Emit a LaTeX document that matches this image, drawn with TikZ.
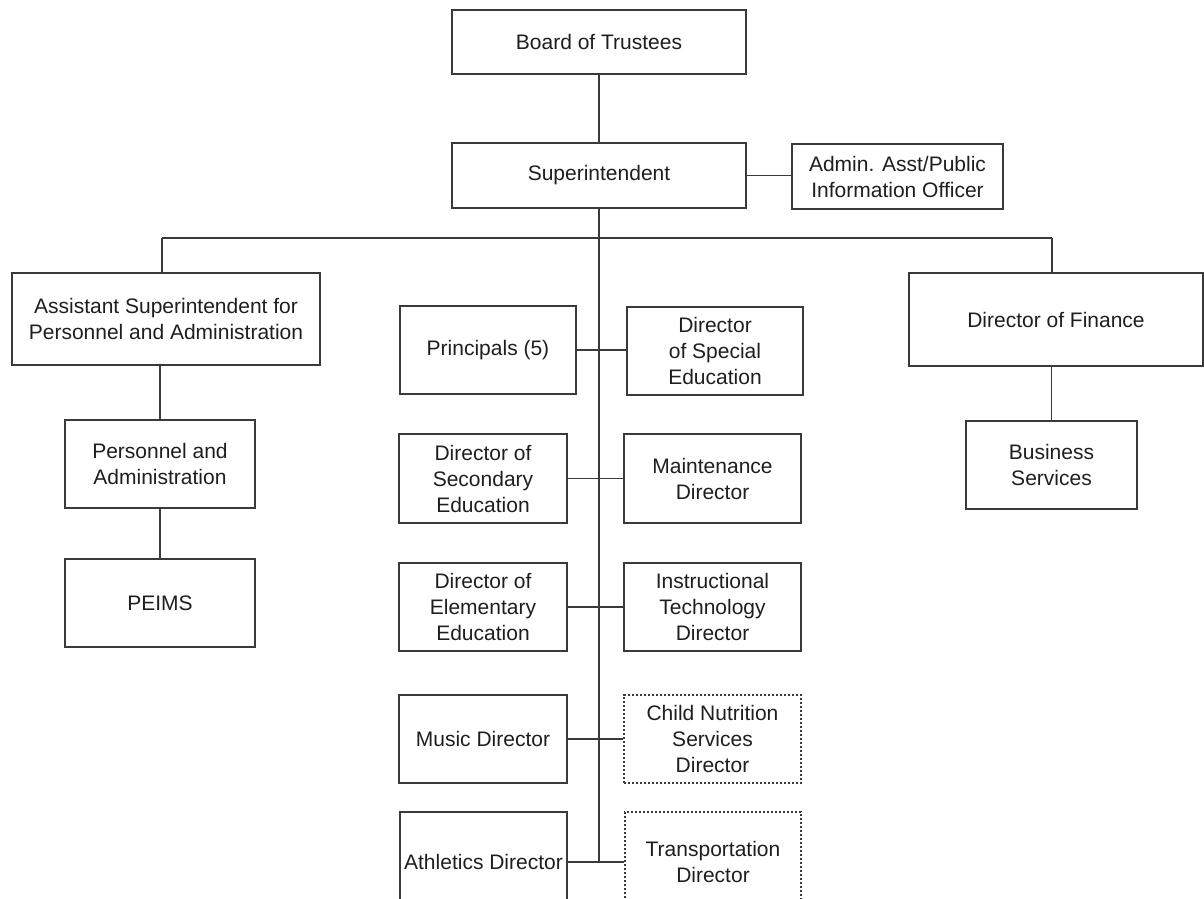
\documentclass[tikz,border=0pt]{standalone}
\usepackage{fontspec}
\setmainfont{Liberation Sans}
\begin{document}
\definecolor{inkline}{HTML}{3A3A3A}
\definecolor{inktext}{HTML}{1E1E1E}
% orgbox[style]{name}{x1}{y1}{x2}{y2}{text}, corners in pixel units (y downwards)
\newcommand\orgbox[7][]{%
  \node[box,#1,minimum width={(#5-#3)*0.75pt},minimum height={(#6-#4)*0.75pt}]
    (#2) at ({(#3+#5)/2},{(#4+#6)/2}) {#7};}
\begin{tikzpicture}[x=0.75pt,y=-0.75pt,
  box/.style={draw=inkline,line width=0.8pt,rectangle,inner sep=0pt,align=center,
    text=inktext,font=\fontsize{15.75}{19.5}\selectfont},
  dotbox/.style={dash pattern=on 1.6pt off 1.4pt},
  link/.style={draw=inkline,line width=0.8pt}]
\useasboundingbox (0,0) rectangle (1204,899);
\clip (0,0) rectangle (1204,899);

% top of the chart
\orgbox{board}{452}{10}{746}{74}{Board of Trustees}
\orgbox{super}{452}{143}{746}{208}{Superintendent}
\orgbox{admin}{792}{144}{1003}{209}{Admin. Asst/Public\\Information Officer}

% left branch
\orgbox{aspa}{12}{273}{320}{365}{Assistant Superintendent for\\Personnel and Administration}
\orgbox{pers}{65}{420}{255}{508}{Personnel and\\Administration}
\orgbox{peims}{65}{559}{255}{647}{PEIMS}

% right branch
\orgbox{fin}{909}{273}{1203}{366}{Director of Finance}
\orgbox{bus}{966}{421}{1137}{509}{Business\\Services}

% central column
\orgbox{princ}{400}{306}{576}{394}{Principals (5)}
\orgbox{sped}{627}{307}{803}{395}{Director\\of Special\\Education}
\orgbox{sec}{399}{434}{567}{523}{Director of\\Secondary\\Education}
\orgbox{maint}{624}{434}{801}{523}{Maintenance\\Director}
\orgbox{elem}{399}{563}{567}{651}{Director of\\Elementary\\Education}
\orgbox{tech}{624}{563}{801}{651}{Instructional\\Technology\\Director}
\orgbox{music}{399}{695}{567}{783}{Music Director}
\orgbox[dotbox]{nutr}{624}{695}{801}{783}{Child Nutrition\\Services\\Director}
\orgbox{ath}{400}{812}{567}{912}{Athletics Director}
\orgbox[dotbox]{trans}{625}{812}{801}{912}{Transportation\\Director}

% connectors
\coordinate (lbar) at (162,238);
\coordinate (rbar) at (1052,238);
\draw[link] (board.south) -- (super.north);
\draw[link] (super.east) -- (super.east -| admin.west);
\draw[link] (super.south) -- (super.south |- ath.east);
\draw[link] (lbar) -- (rbar);
\draw[link] (lbar) -- (lbar |- aspa.north);
\draw[link] (rbar) -- (rbar |- fin.north);
\draw[link] (aspa.south -| pers.north) -- (pers.north);
\draw[link] (pers.south) -- (peims.north);
\draw[link] (fin.south -| bus.north) -- (bus.north);
\draw[link] (princ.east) -- (princ.east -| sped.west);
\draw[link] (sec.east) -- (maint.west);
\draw[link] (elem.east) -- (tech.west);
\draw[link] (music.east) -- (nutr.west);
\draw[link] (ath.east) -- (trans.west);
\end{tikzpicture}
\end{document}
